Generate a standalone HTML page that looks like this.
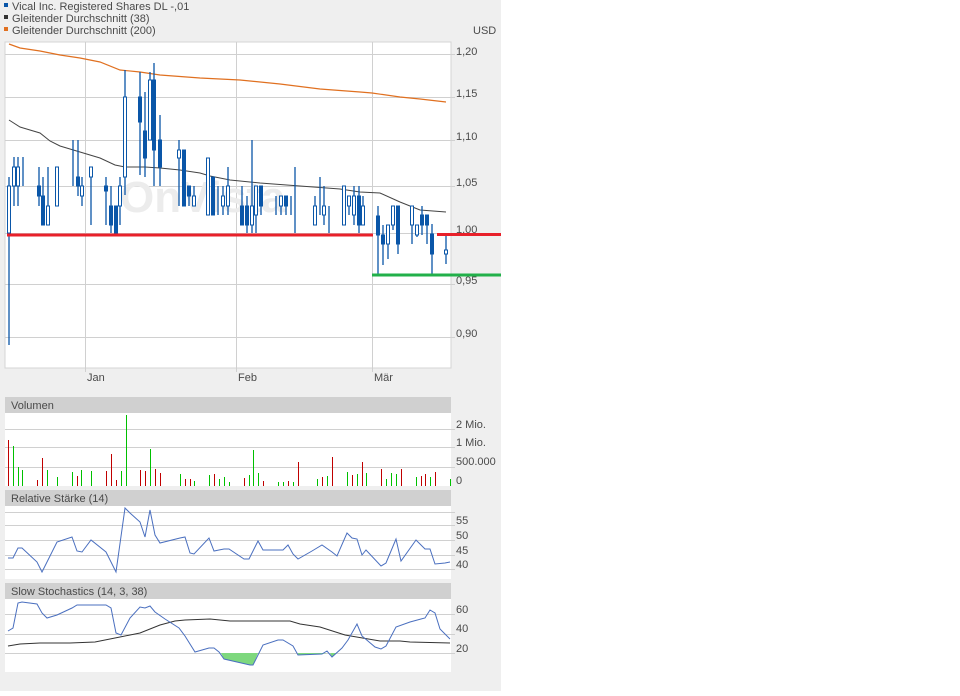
<!DOCTYPE html>
<html><head><meta charset="utf-8"><style>
body{margin:0;width:960px;height:691px;background:#fff;overflow:hidden;font-family:"Liberation Sans",sans-serif}
</style></head><body>
<svg width="960" height="691" xmlns="http://www.w3.org/2000/svg" font-family="Liberation Sans, sans-serif" font-size="11" fill="#4a4a4a">
<rect x="0" y="0" width="501" height="691" fill="#efefef"/>
<!-- legend -->
<rect x="4" y="3" width="4" height="4" fill="#0a56a8"/><text x="12" y="10">Vical Inc. Registered Shares DL -,01</text>
<rect x="4" y="15" width="4" height="4" fill="#333"/><text x="12" y="22">Gleitender Durchschnitt (38)</text>
<rect x="4" y="27" width="4" height="4" fill="#e07020"/><text x="12" y="34">Gleitender Durchschnitt (200)</text>
<text x="473" y="34">USD</text>
<!-- main plot -->
<rect x="5" y="42" width="446" height="326" fill="#fff" stroke="#d4d4d4"/>
<g stroke="#d0d0d0" stroke-width="1">
<line x1="5" y1="54.5" x2="455" y2="54.5"/><line x1="5" y1="97.5" x2="455" y2="97.5"/><line x1="5" y1="140.5" x2="455" y2="140.5"/><line x1="5" y1="186.5" x2="455" y2="186.5"/><line x1="5" y1="233.5" x2="455" y2="233.5"/><line x1="5" y1="284.5" x2="455" y2="284.5"/><line x1="5" y1="337.5" x2="455" y2="337.5"/>
<line x1="85.5" y1="42" x2="85.5" y2="372"/><line x1="236.5" y1="42" x2="236.5" y2="372"/><line x1="372.5" y1="42" x2="372.5" y2="372"/>
</g>
<text x="120" y="212" font-size="44" font-weight="bold" fill="#ececec">OnVista</text>
<g><text x="456" y="55">1,20</text><text x="456" y="97">1,15</text><text x="456" y="140">1,10</text><text x="456" y="186">1,05</text><text x="456" y="233">1,00</text><text x="456" y="284">0,95</text><text x="456" y="337">0,90</text>
<text x="87" y="381">Jan</text><text x="238" y="381">Feb</text><text x="374" y="381">Mär</text></g>
<polyline fill="none" stroke="#e07020" stroke-width="1.2" points="9,44 20,48 40,51 60,55 80,58 100,62 120,70 140,72 160,75 200,78 240,80 280,84 320,89 360,92 372,93 400,97 420,99 446,102"/>
<polyline fill="none" stroke="#444" stroke-width="1" points="9,120 20,127 40,133 50,141 60,146 80,152 100,158 115,165 125,167 145,167 160,168 180,170 200,173 210,176 230,180 260,183 300,186 340,189 360,192 380,193 400,202 420,210 446,212"/>
<g stroke="#0a56a8" stroke-width="1.3">
<line x1="9" y1="177" x2="9" y2="345"/><line x1="14" y1="157" x2="14" y2="206"/><line x1="18" y1="157" x2="18" y2="206"/><line x1="23" y1="157" x2="23" y2="186"/><line x1="39" y1="167" x2="39" y2="206"/><line x1="43" y1="177" x2="43" y2="225"/><line x1="48" y1="167" x2="48" y2="225"/><line x1="57" y1="167" x2="57" y2="206"/><line x1="73" y1="140" x2="73" y2="186"/><line x1="78" y1="140" x2="78" y2="196"/><line x1="82" y1="177" x2="82" y2="206"/><line x1="91" y1="167" x2="91" y2="225"/><line x1="106" y1="177" x2="106" y2="225"/><line x1="111" y1="186" x2="111" y2="233"/><line x1="116" y1="206" x2="116" y2="235"/><line x1="120" y1="177" x2="120" y2="225"/><line x1="125" y1="70" x2="125" y2="195"/><line x1="140" y1="72" x2="140" y2="175"/><line x1="145" y1="92" x2="145" y2="177"/><line x1="150" y1="72" x2="150" y2="140"/><line x1="154" y1="63" x2="154" y2="186"/><line x1="160" y1="115" x2="160" y2="186"/><line x1="179" y1="140" x2="179" y2="206"/><line x1="184" y1="150" x2="184" y2="206"/><line x1="189" y1="186" x2="189" y2="206"/><line x1="194" y1="186" x2="194" y2="206"/><line x1="208" y1="158" x2="208" y2="215"/><line x1="213" y1="177" x2="213" y2="215"/><line x1="218" y1="186" x2="218" y2="215"/><line x1="223" y1="186" x2="223" y2="215"/><line x1="228" y1="167" x2="228" y2="215"/><line x1="242" y1="186" x2="242" y2="225"/><line x1="247" y1="196" x2="247" y2="233"/><line x1="252" y1="140" x2="252" y2="233"/><line x1="256" y1="186" x2="256" y2="233"/><line x1="261" y1="186" x2="261" y2="215"/><line x1="276" y1="196" x2="276" y2="215"/><line x1="281" y1="196" x2="281" y2="215"/><line x1="286" y1="196" x2="286" y2="215"/><line x1="291" y1="196" x2="291" y2="215"/><line x1="295" y1="167" x2="295" y2="233"/><line x1="315" y1="196" x2="315" y2="225"/><line x1="320" y1="177" x2="320" y2="215"/><line x1="324" y1="186" x2="324" y2="225"/><line x1="329" y1="206" x2="329" y2="233"/><line x1="344" y1="186" x2="344" y2="225"/><line x1="349" y1="196" x2="349" y2="215"/><line x1="354" y1="186" x2="354" y2="225"/><line x1="359" y1="186" x2="359" y2="233"/><line x1="363" y1="196" x2="363" y2="225"/><line x1="378" y1="206" x2="378" y2="274"/><line x1="383" y1="225" x2="383" y2="265"/><line x1="388" y1="225" x2="388" y2="259"/><line x1="393" y1="206" x2="393" y2="230"/><line x1="398" y1="206" x2="398" y2="254"/><line x1="412" y1="206" x2="412" y2="244"/><line x1="417" y1="225" x2="417" y2="237"/><line x1="422" y1="206" x2="422" y2="235"/><line x1="427" y1="215" x2="427" y2="244"/><line x1="432" y1="224" x2="432" y2="274"/><line x1="446" y1="234" x2="446" y2="264"/>
</g>
<g fill="#0a56a8" stroke="#0a56a8" stroke-width="1">
<rect x="37.5" y="186" width="3" height="10"/><rect x="41.5" y="196" width="3" height="29"/><rect x="76.5" y="177" width="3" height="9"/><rect x="104.5" y="186" width="3" height="5"/><rect x="109.5" y="206" width="3" height="19"/><rect x="114.5" y="206" width="3" height="27"/><rect x="138.5" y="97" width="3" height="25"/><rect x="143.5" y="131" width="3" height="27"/><rect x="152.5" y="80" width="3" height="70"/><rect x="158.5" y="140" width="3" height="27"/><rect x="182.5" y="150" width="3" height="56"/><rect x="187.5" y="186" width="3" height="10"/><rect x="211.5" y="177" width="3" height="38"/><rect x="240.5" y="206" width="3" height="19"/><rect x="245.5" y="206" width="3" height="19"/><rect x="259.5" y="186" width="3" height="20"/><rect x="284.5" y="196" width="3" height="10"/><rect x="357.5" y="196" width="3" height="29"/><rect x="376.5" y="216" width="3" height="19"/><rect x="381.5" y="235" width="3" height="9"/><rect x="396.5" y="206" width="3" height="38"/><rect x="420.5" y="215" width="3" height="10"/><rect x="425.5" y="215" width="3" height="10"/><rect x="430.5" y="234" width="3" height="20"/>
</g>
<g fill="#fff" stroke="#0a56a8" stroke-width="1">
<rect x="7.5" y="186" width="3" height="47"/><rect x="12.5" y="167" width="3" height="19"/><rect x="16.5" y="167" width="3" height="19"/><rect x="46.5" y="206" width="3" height="19"/><rect x="55.5" y="167" width="3" height="39"/><rect x="80.5" y="186" width="3" height="10"/><rect x="89.5" y="167" width="3" height="10"/><rect x="118.5" y="186" width="3" height="20"/><rect x="123.5" y="97" width="3" height="80"/><rect x="148.5" y="80" width="3" height="60"/><rect x="177.5" y="150" width="3" height="8"/><rect x="192.5" y="196" width="3" height="10"/><rect x="206.5" y="158" width="3" height="57"/><rect x="221.5" y="196" width="3" height="10"/><rect x="226.5" y="186" width="3" height="20"/><rect x="250.5" y="206" width="3" height="19"/><rect x="254.5" y="186" width="3" height="29"/><rect x="279.5" y="196" width="3" height="10"/><rect x="313.5" y="206" width="3" height="19"/><rect x="322.5" y="206" width="3" height="9"/><rect x="342.5" y="186" width="3" height="39"/><rect x="347.5" y="196" width="3" height="10"/><rect x="352.5" y="196" width="3" height="19"/><rect x="361.5" y="206" width="3" height="19"/><rect x="386.5" y="225" width="3" height="19"/><rect x="391.5" y="206" width="3" height="19"/><rect x="410.5" y="206" width="3" height="19"/><rect x="415.5" y="225" width="3" height="10"/><rect x="444.5" y="250" width="3" height="4"/>
</g>
<line x1="7" y1="235" x2="373" y2="235" stroke="#e8202a" stroke-width="3"/>
<line x1="437" y1="234.5" x2="501" y2="234.5" stroke="#e8202a" stroke-width="3"/>
<line x1="372" y1="275" x2="501" y2="275" stroke="#22b04a" stroke-width="3"/>

<!-- Volume -->
<rect x="5" y="397" width="446" height="16" fill="#d0d0d0"/><text x="11" y="409">Volumen</text>
<rect x="5" y="413" width="446" height="73" fill="#fff"/>
<g stroke="#d0d0d0"><line x1="5" y1="429.5" x2="455" y2="429.5"/><line x1="5" y1="447.5" x2="455" y2="447.5"/><line x1="5" y1="467.5" x2="455" y2="467.5"/></g>
<text x="456" y="428">2 Mio.</text><text x="456" y="446">1 Mio.</text><text x="456" y="465">500.000</text><text x="456" y="484">0</text>
<g stroke="#c00000" stroke-width="1" shape-rendering="crispEdges" transform="translate(0.5,0)"><line x1="8" y1="440" x2="8" y2="486"/><line x1="37" y1="480" x2="37" y2="486"/><line x1="42" y1="458" x2="42" y2="486"/><line x1="77" y1="476" x2="77" y2="486"/><line x1="106" y1="471" x2="106" y2="486"/><line x1="111" y1="454" x2="111" y2="486"/><line x1="116" y1="480" x2="116" y2="486"/><line x1="140" y1="470" x2="140" y2="486"/><line x1="145" y1="471" x2="145" y2="486"/><line x1="155" y1="469" x2="155" y2="486"/><line x1="160" y1="473" x2="160" y2="486"/><line x1="185" y1="479" x2="185" y2="486"/><line x1="190" y1="479" x2="190" y2="486"/><line x1="214" y1="474" x2="214" y2="486"/><line x1="244" y1="478" x2="244" y2="486"/><line x1="263" y1="481" x2="263" y2="486"/><line x1="288" y1="481" x2="288" y2="486"/><line x1="298" y1="462" x2="298" y2="486"/><line x1="322" y1="477" x2="322" y2="486"/><line x1="332" y1="457" x2="332" y2="486"/><line x1="352" y1="475" x2="352" y2="486"/><line x1="362" y1="462" x2="362" y2="486"/><line x1="381" y1="469" x2="381" y2="486"/><line x1="401" y1="469" x2="401" y2="486"/><line x1="421" y1="476" x2="421" y2="486"/><line x1="425" y1="474" x2="425" y2="486"/><line x1="435" y1="472" x2="435" y2="486"/></g>
<g stroke="#00c000" stroke-width="1" shape-rendering="crispEdges" transform="translate(0.5,0)"><line x1="13" y1="446" x2="13" y2="486"/><line x1="18" y1="467" x2="18" y2="486"/><line x1="22" y1="470" x2="22" y2="486"/><line x1="47" y1="470" x2="47" y2="486"/><line x1="57" y1="477" x2="57" y2="486"/><line x1="72" y1="472" x2="72" y2="486"/><line x1="81" y1="470" x2="81" y2="486"/><line x1="91" y1="471" x2="91" y2="486"/><line x1="121" y1="471" x2="121" y2="486"/><line x1="126" y1="415" x2="126" y2="486"/><line x1="150" y1="449" x2="150" y2="486"/><line x1="180" y1="474" x2="180" y2="486"/><line x1="194" y1="481" x2="194" y2="486"/><line x1="209" y1="475" x2="209" y2="486"/><line x1="219" y1="479" x2="219" y2="486"/><line x1="224" y1="477" x2="224" y2="486"/><line x1="229" y1="482" x2="229" y2="486"/><line x1="249" y1="475" x2="249" y2="486"/><line x1="253" y1="450" x2="253" y2="486"/><line x1="258" y1="473" x2="258" y2="486"/><line x1="278" y1="482" x2="278" y2="486"/><line x1="283" y1="482" x2="283" y2="486"/><line x1="293" y1="482" x2="293" y2="486"/><line x1="317" y1="479" x2="317" y2="486"/><line x1="327" y1="476" x2="327" y2="486"/><line x1="347" y1="472" x2="347" y2="486"/><line x1="357" y1="474" x2="357" y2="486"/><line x1="366" y1="473" x2="366" y2="486"/><line x1="386" y1="479" x2="386" y2="486"/><line x1="391" y1="473" x2="391" y2="486"/><line x1="396" y1="474" x2="396" y2="486"/><line x1="416" y1="477" x2="416" y2="486"/><line x1="430" y1="477" x2="430" y2="486"/><line x1="450" y1="479" x2="450" y2="486"/></g>

<!-- RSI -->
<rect x="5" y="490" width="446" height="16" fill="#d0d0d0"/><text x="11" y="502">Relative Stärke (14)</text>
<rect x="5" y="506" width="446" height="73" fill="#fff"/>
<g stroke="#d0d0d0"><line x1="5" y1="512.5" x2="455" y2="512.5"/><line x1="5" y1="525.5" x2="455" y2="525.5"/><line x1="5" y1="540.5" x2="455" y2="540.5"/><line x1="5" y1="555.5" x2="455" y2="555.5"/><line x1="5" y1="569.5" x2="455" y2="569.5"/></g>
<text x="456" y="524">55</text><text x="456" y="539">50</text><text x="456" y="554">45</text><text x="456" y="568">40</text>
<polyline fill="none" stroke="#4a6fbf" stroke-width="1" points="8,558 13,558 18,548 22,548 37,562 42,572 57,542 72,537 77,551 82,552 91,540 106,552 116,572 125,508 130,513 140,522 145,537 150,510 155,535 160,543 180,538 185,537 190,553 194,554 209,538 214,551 219,550 224,549 229,549 244,559 249,559 258,541 263,550 283,550 288,545 293,554 298,559 312,551 322,545 332,552 337,556 347,533 352,538 357,539 362,555 366,550 381,566 386,563 396,539 401,561 416,540 425,549 430,549 435,564 445,563 450,562"/>

<!-- Stoch -->
<rect x="5" y="583" width="446" height="16" fill="#d0d0d0"/><text x="11" y="595">Slow Stochastics (14, 3, 38)</text>
<rect x="5" y="599" width="446" height="73" fill="#fff"/>
<g stroke="#d0d0d0"><line x1="5" y1="614.5" x2="455" y2="614.5"/><line x1="5" y1="634.5" x2="455" y2="634.5"/><line x1="5" y1="653.5" x2="455" y2="653.5"/></g>
<text x="456" y="613">60</text><text x="456" y="632">40</text><text x="456" y="652">20</text>
<polygon fill="#7ed87e" points="221,653 224,659 250,665 253,665 258,653"/>
<polygon fill="#7ed87e" points="298,653 298,655 322,654 327,653"/><polygon fill="#7ed87e" points="330,653 332,657 336,653"/>
<polyline fill="none" stroke="#333" stroke-width="1" points="8,646 20,644 40,643 70,643 95,642 120,637 140,633 160,625 175,621 185,620 210,619 230,621 260,621 290,621 300,624 320,627 345,635 380,641 400,641 410,642 450,643"/>
<polyline fill="none" stroke="#4a6fbf" stroke-width="1" points="8,631 13,628 18,603 22,602 37,604 42,613 47,618 57,615 72,608 77,605 82,605 91,605 106,605 111,608 116,633 121,635 130,618 140,607 145,608 150,606 155,612 165,619 179,628 185,636 195,652 209,648 214,648 219,652 224,659 250,665 253,665 263,645 278,640 283,640 293,646 298,655 322,654 327,651 332,657 342,648 348,640 357,624 362,636 375,647 381,649 386,646 396,627 410,622 421,619 425,618 430,610 435,613 440,629 450,639"/>
</svg>
</body></html>
